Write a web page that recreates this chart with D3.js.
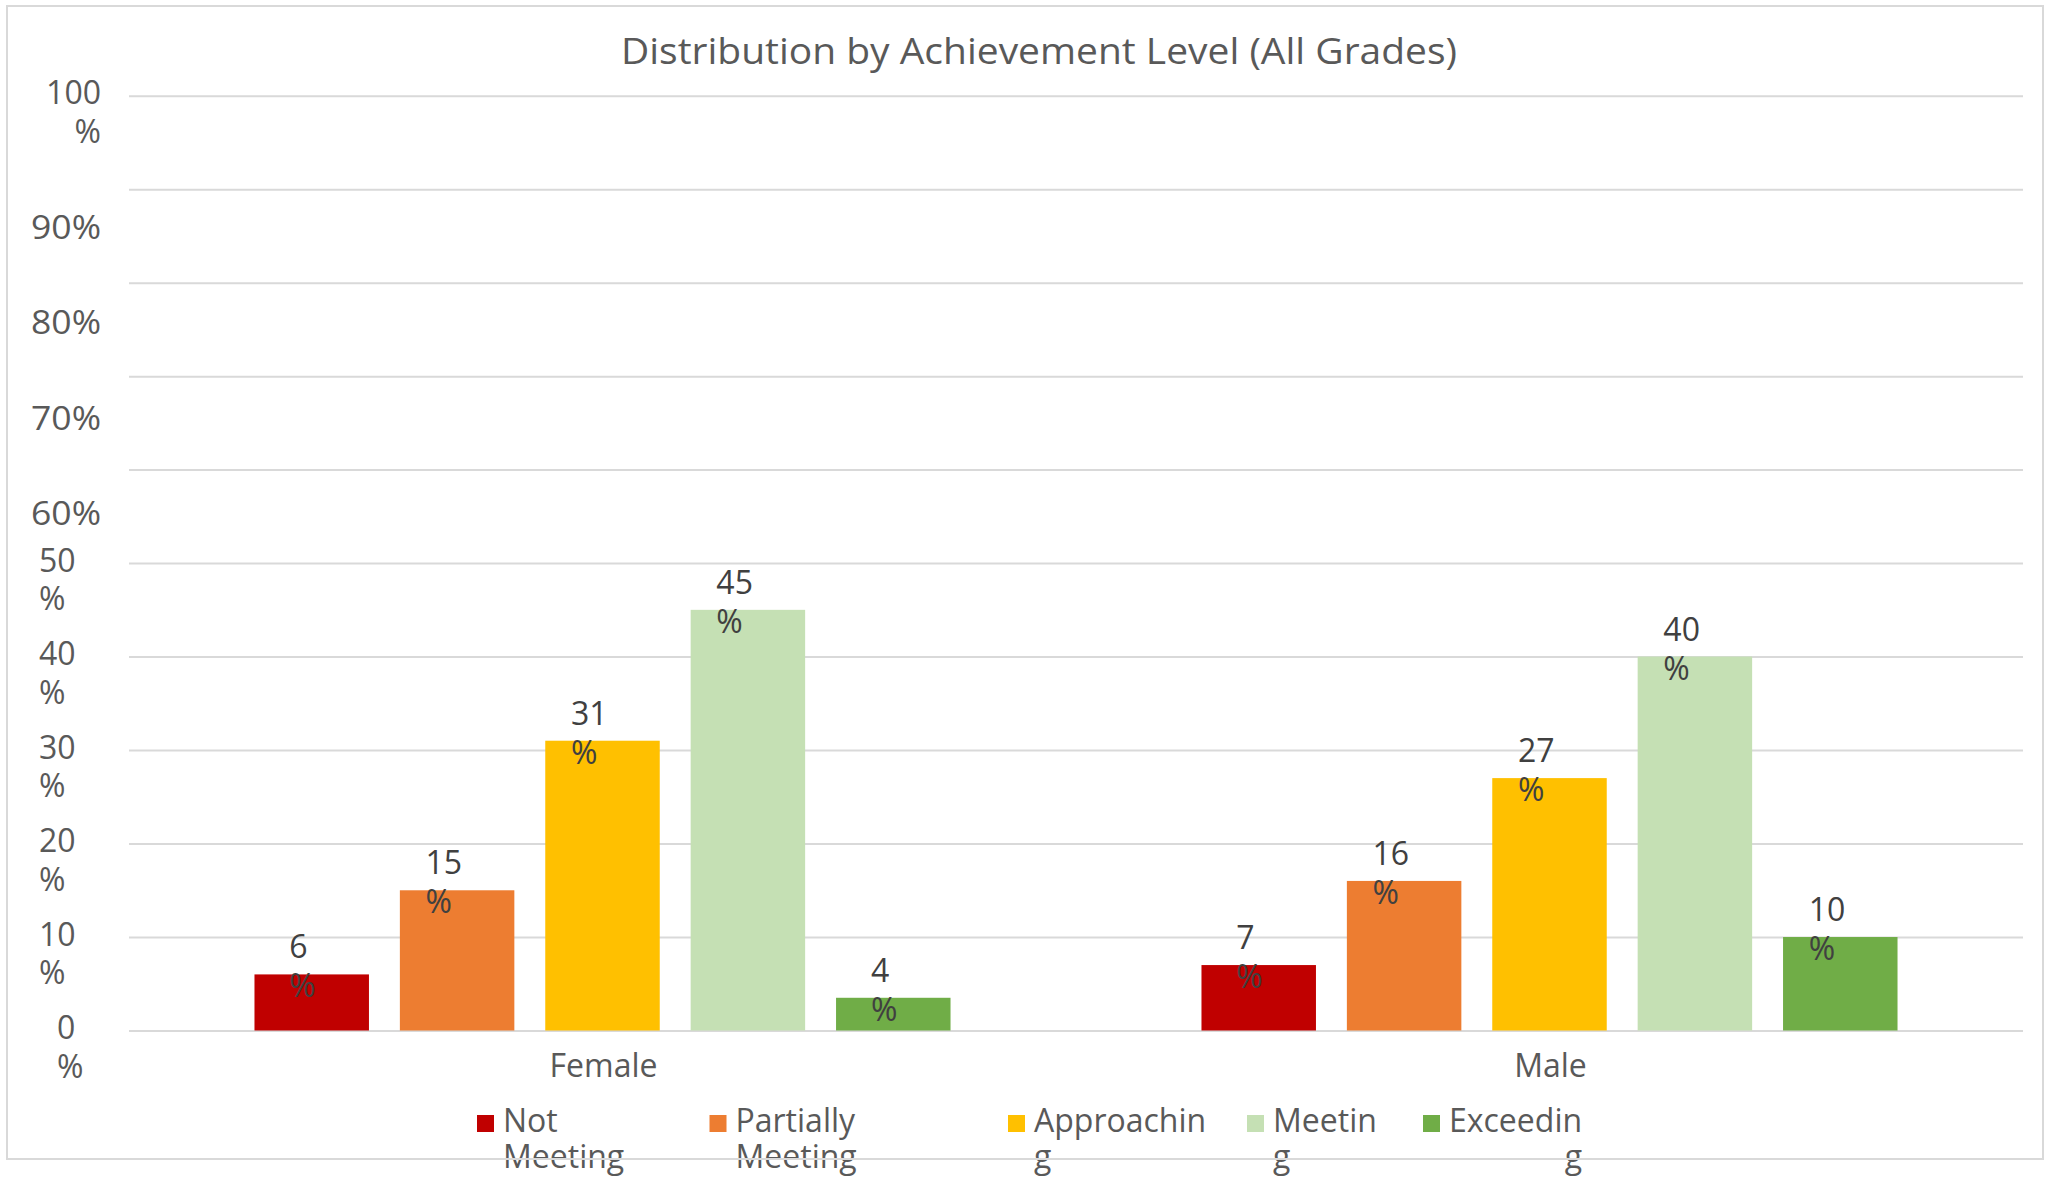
<!DOCTYPE html>
<html>
<head>
<meta charset="utf-8">
<script src="https://cdn.jsdelivr.net/npm/d3@7"></script>
<style>
  html, body { margin: 0; padding: 0; background: #fff; }
  svg { display: block; font-family: "Open Sans", Lato, sans-serif; }
</style>
</head>
<body>
<svg id="chart" width="2045" height="1178"></svg>
<script>
// ---- data ----
const title = "Distribution by Achievement Level (All Grades)";
const categories = ["Female", "Male"];
const series = ["Not Meeting", "Partially Meeting", "Approaching", "Meeting", "Exceeding"];
const colors = ["#C00000", "#ED7D31", "#FFC000", "#C5E0B4", "#70AD47"];
const femaleValues = [6, 15, 31, 45, 3.5];
const maleValues = [7, 16, 27, 40, 10];
const yTicks = [0, 10, 20, 30, 40, 50, 60, 70, 80, 90, 100];
const wrappedTicks = [0, 10, 20, 30, 40, 50, 100];

const valuesByCategory = [femaleValues, maleValues];

// ---- layout ----
const svg = d3.select("#chart");
const plot = { left: 129, right: 2023, top: 95.7, bottom: 1030.5 };
const textColor = "#595959";
const labelColor = "#404040";
const gridColor = "#D9D9D9";

svg.append("rect").attr("x", 0).attr("y", 0).attr("width", 2045).attr("height", 1178).attr("fill", "#fff");

const y = d3.scaleLinear().domain([0, 100]).range([plot.bottom, plot.top]);
const x0 = d3.scaleBand().domain(categories).range([plot.left, plot.right])
  .paddingInner(0.265).paddingOuter(0.1325);
const x1 = d3.scaleBand().domain(series).range([0, x0.bandwidth()])
  .paddingInner(0.27 / 1.27).paddingOuter(0);
const color = d3.scaleOrdinal().domain(series).range(colors);

// gridlines
const yAxis = d3.axisLeft(y).tickValues(yTicks).tickSize(-(plot.right - plot.left)).tickFormat("");
const gAxis = svg.append("g").attr("transform", `translate(${plot.left},0)`).call(yAxis);
gAxis.select(".domain").remove();
gAxis.selectAll(".tick line").attr("stroke", gridColor).attr("stroke-width", 2);

// y tick labels (Excel-style wrapping)
const tickFont = 32;
const gTicks = svg.append("g").attr("fill", textColor).style("font-size", tickFont + "px");
yTicks.forEach(v => {
  const gy = y(v);
  if (wrappedTicks.includes(v)) {
    const anchor = v === 100 ? "end" : "start";
    const xPos = v === 100 ? 101 : (v === 0 ? 57 : 39);
    const t = gTicks.append("text").attr("text-anchor", anchor);
    t.append("tspan").attr("x", xPos).attr("y", gy + 8.5).text(String(v));
    t.append("tspan").attr("x", xPos).attr("y", gy + 47).text("%");
  } else {
    gTicks.append("text")
      .attr("x", 101).attr("y", gy + 49.5 + (90 - v) / 10 * 2)
      .attr("text-anchor", "end")
      .attr("textLength", 70).attr("lengthAdjust", "spacingAndGlyphs")
      .text(v + "%");
  }
});

// bars
const groups = svg.append("g").selectAll("g.cat")
  .data(categories.map((c, ci) => ({ c, vals: valuesByCategory[ci] })))
  .join("g").attr("class", "cat")
  .attr("transform", d => `translate(${x0(d.c)},0)`);

groups.selectAll("rect")
  .data(d => d.vals.map((v, i) => ({ s: series[i], v })))
  .join("rect")
  .attr("x", d => x1(d.s))
  .attr("y", d => y(d.v))
  .attr("width", x1.bandwidth())
  .attr("height", d => y(0) - y(d.v))
  .attr("fill", d => color(d.s));

// data labels (wrapped "NN" / "%")
const dlFont = 32;
groups.each(function (gd) {
  const g = d3.select(this);
  gd.vals.forEach((v, i) => {
    const cx = x1(series[i]) + x1.bandwidth() / 2;
    const top = y(v);
    const full = Math.round(v) + "%";
    const probe = g.append("text").style("font-size", dlFont + "px").text(full);
    const fw = probe.node().getComputedTextLength();
    probe.remove();
    const left = cx - fw / 2;
    const t = g.append("text").attr("fill", labelColor).style("font-size", dlFont + "px");
    t.append("tspan").attr("x", left).attr("y", top - 16).text(String(Math.round(v)));
    t.append("tspan").attr("x", left).attr("y", top + 23).text("%");
  });
});

// category labels
svg.append("g").selectAll("text")
  .data(categories).join("text")
  .attr("x", d => x0(d) + x0.bandwidth() / 2 + 1)
  .attr("y", 1077)
  .attr("text-anchor", "middle")
  .attr("fill", textColor)
  .style("font-size", "32px")
  .text(d => d);

// title
svg.append("text")
  .attr("x", 1039).attr("y", 64)
  .attr("text-anchor", "middle")
  .attr("fill", textColor)
  .style("font-size", "36px")
  .attr("textLength", 836)
  .attr("lengthAdjust", "spacingAndGlyphs")
  .text(title);

// legend
const legendX = [477, 709.5, 1008, 1247, 1423];
const legendFont = 32;
function wrapLegend(name) {
  const sp = name.indexOf(" ");
  if (sp >= 0) return [name.slice(0, sp), name.slice(sp + 1), false];
  return [name.slice(0, -1), name.slice(-1), true];
}
const gLeg = svg.append("g").style("font-size", legendFont + "px").attr("fill", textColor);
series.forEach((s, i) => {
  const lx = legendX[i];
  gLeg.append("rect").attr("x", lx).attr("y", 1115).attr("width", 17).attr("height", 17)
    .attr("fill", color(s));
  const [a, b, split] = wrapLegend(s);
  const probe = gLeg.append("text").text(a);
  const w1 = probe.node().getComputedTextLength();
  probe.remove();
  const lastRight = split && i === series.length - 1;
  const t = gLeg.append("text");
  t.append("tspan").attr("x", lx + 26).attr("y", 1131.7).text(a);
  const t2 = t.append("tspan").attr("y", 1168).text(b);
  if (lastRight) {
    const w2 = (() => { const p = gLeg.append("text").text(b); const w = p.node().getComputedTextLength(); p.remove(); return w; })();
    t2.attr("x", lx + 26 + w1 - w2);
  } else {
    t2.attr("x", lx + 26);
  }
});

// chart frame on top
svg.append("rect")
  .attr("x", 7).attr("y", 6).attr("width", 2036).attr("height", 1153)
  .attr("fill", "none").attr("stroke", gridColor).attr("stroke-width", 2);
</script>
</body>
</html>
